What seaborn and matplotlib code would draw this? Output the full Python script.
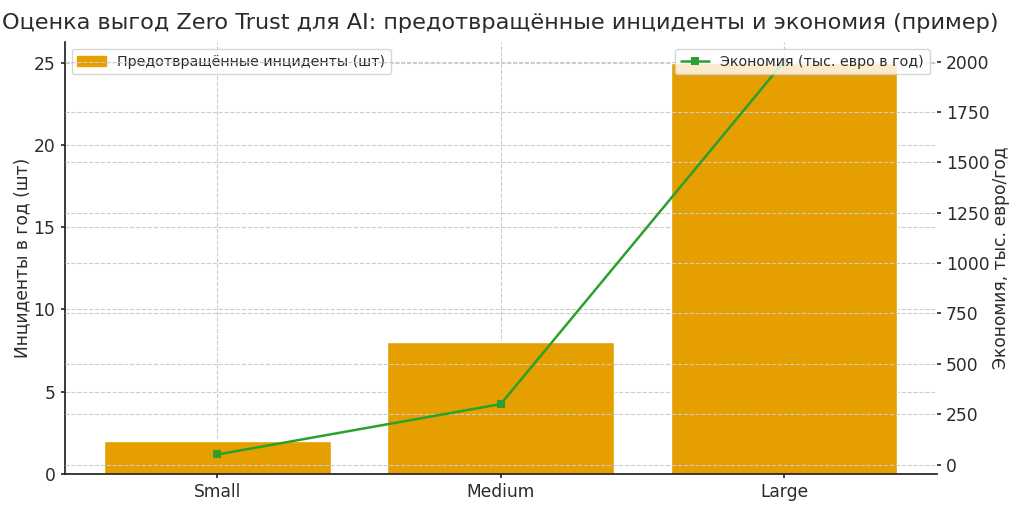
import matplotlib
matplotlib.use("Agg")
import matplotlib.pyplot as plt
from matplotlib.patches import Patch
import seaborn as sns
import pandas as pd

sns.set_theme(style="ticks")
plt.rcParams["font.family"] = ["DejaVu Sans"]

sizes = ["Small", "Medium", "Large"]
incidents = [2, 8, 25]
savings = [50, 300, 2000]

df = pd.DataFrame({"size": sizes, "incidents": incidents, "savings": savings})

text_color = "#2b2b2b"
bar_color = "#E69F00"
grid_kw = dict(color="#cccccc", linestyle="--", linewidth=0.8)

fig, ax = plt.subplots(figsize=(10.24, 5.12), dpi=100)
fig.subplots_adjust(left=0.063, right=0.915, top=0.918, bottom=0.074)

sns.barplot(data=df, x="size", y="incidents", color=bar_color, saturation=1,
            width=0.8, ax=ax)
ax.set_xlim(-0.54, 2.54)
ax.set_ylim(0, 26.25)
ax.grid(True, **grid_kw)
ax.set_axisbelow(True)
ax.set_xlabel("")
ax.set_ylabel("Инциденты в год (шт)", fontsize=12.3, color=text_color, labelpad=1.5)
ax.tick_params(axis="both", labelsize=12.3, colors=text_color, length=3)
for s in ["top", "right"]:
    ax.spines[s].set_visible(False)
for s in ["left", "bottom"]:
    ax.spines[s].set_color("#222222")

ax2 = ax.twinx()
sns.lineplot(data=df, x="size", y="savings", color="#2ca02c", marker="s",
             markersize=6, markeredgewidth=0, linewidth=1.8, ax=ax2,
             label="Экономия (тыс. евро в год)", sort=False)
ax2.set_ylim(-47.5, 2097.5)
ax2.grid(True, axis="y", **grid_kw)
ax2.set_ylabel("Экономия, тыс. евро/год", fontsize=12.3, color=text_color, labelpad=2)
ax2.tick_params(axis="y", labelsize=12.3, colors=text_color, length=3)
for s in ["top", "right", "left", "bottom"]:
    ax2.spines[s].set_visible(False)

ax.legend(handles=[Patch(color=bar_color, label="Предотвращённые инциденты (шт)")],
          loc="upper left", fontsize=10.25, frameon=True, framealpha=0.8,
          labelcolor=text_color)
ax2.legend(loc="upper right", fontsize=10.25, frameon=True, framealpha=0.8,
           labelcolor=text_color)

ax.set_title("Оценка выгод Zero Trust для AI: предотвращённые инциденты и экономия (пример)",
             fontsize=16.1, color=text_color, pad=9.5)

plt.savefig("out.png", dpi=100)
